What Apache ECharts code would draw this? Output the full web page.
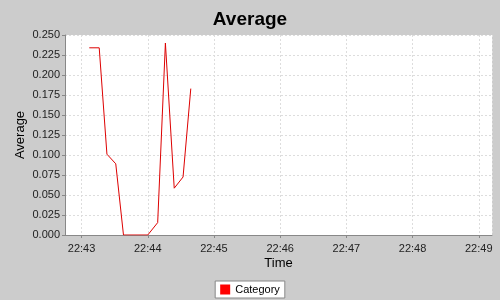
<!DOCTYPE html>
<html><head><meta charset="utf-8">
<script src="https://cdn.jsdelivr.net/npm/echarts@6/dist/echarts.min.js"></script>
<style>html,body{margin:0;padding:0;background:#cccccc;}#c{width:500px;height:300px;}</style>
</head><body><div id="c"></div>
<script>
const seriesName = 'Category';
const times = ['22:43:07','22:43:16','22:43:23','22:43:31','22:43:38','22:44:00','22:44:09','22:44:16','22:44:24','22:44:32','22:44:39'];
const values = [0.234,0.234,0.101,0.089,0.0,0.0,0.0155,0.240,0.0585,0.0725,0.183];
const yTicks = [0,0.025,0.05,0.075,0.1,0.125,0.15,0.175,0.2,0.225,0.25];
const xMinTime = '22:42:45';
const xMaxTime = '22:49:12';

function ts(s){const p=s.split(':').map(Number);return Date.UTC(2020,0,1,p[0],p[1],p[2]);}
function pad(n){return (n<10?'0':'')+n;}
const data = times.map((t,i)=>[ts(t),values[i]]);
const chart = echarts.init(document.getElementById('c'));
chart.setOption({
  useUTC:true,
  backgroundColor:'#cccccc',
  animation:false,
  title:{text:'Average',left:'center',top:5,textStyle:{fontFamily:'Liberation Sans',fontWeight:'bold',fontSize:19,color:'#000'}},
  grid:{left:65,right:8,top:35,bottom:65,show:true,backgroundColor:'#ffffff',borderWidth:0},
  legend:{bottom:2,left:'center',data:[seriesName],icon:'rect',itemWidth:10,itemHeight:10,itemGap:4,
    backgroundColor:'#ffffff',borderColor:'#888888',borderWidth:1,padding:[3,5,3,5],
    textStyle:{fontFamily:'Liberation Sans',fontSize:11,color:'#000'}},
  xAxis:{type:'time',min:ts(xMinTime),max:ts(xMaxTime),minInterval:60000,maxInterval:60000,
    name:'Time',nameLocation:'middle',nameGap:22,nameMoveOverlap:false,nameTextStyle:{fontFamily:'Liberation Sans',fontSize:13,color:'#000'},
    axisLine:{lineStyle:{color:'#888888'}},axisTick:{show:true,length:3,lineStyle:{color:'#888888'}},
    axisLabel:{fontFamily:'Liberation Sans',fontSize:11,color:'#222',margin:8,
      formatter:function(v){const d=new Date(v);return pad(d.getUTCHours())+':'+pad(d.getUTCMinutes());}},
    splitLine:{show:true,lineStyle:{color:'#dddddd',type:[2,2]}}},
  yAxis:{type:'value',min:0,max:0.25,interval:0.025,
    name:'Average',nameLocation:'middle',nameGap:38,nameMoveOverlap:false,nameTextStyle:{fontFamily:'Liberation Sans',fontSize:13,color:'#000'},
    axisLine:{show:true,lineStyle:{color:'#888888'}},axisTick:{show:true,length:3,lineStyle:{color:'#888888'}},
    axisLabel:{fontFamily:'Liberation Sans',fontSize:11,color:'#222',margin:5,formatter:function(v){return v.toFixed(3);}},
    splitLine:{show:true,lineStyle:{color:'#dddddd',type:[2,2]}}},
  series:[{name:seriesName,type:'line',data:data,showSymbol:false,symbol:'none',lineStyle:{color:'#dd0000',width:1},itemStyle:{color:'#ff0000'}}]
});
</script></body></html>
